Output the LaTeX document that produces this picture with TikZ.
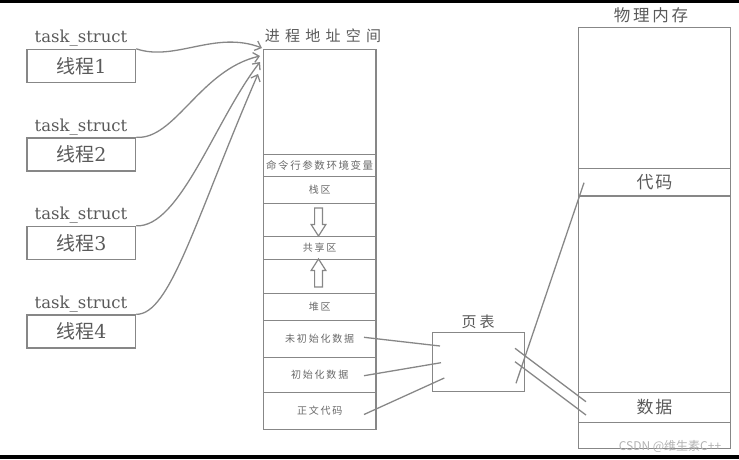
\documentclass[tikz,border=0pt]{standalone}
\usepackage{fontspec}
\newfontfamily\cjk{Noto Sans CJK SC}
\newfontfamily\lat{DejaVu Serif}
\usetikzlibrary{arrows.meta,shapes.arrows}
\definecolor{linegray}{RGB}{135,135,135}
\definecolor{txtgray}{RGB}{90,90,90}
\definecolor{smallgray}{RGB}{105,105,105}
\newcommand{\spaced}[3]{{\cjk\fontsize{#1}{#1}\selectfont\addfontfeature{LetterSpace=#2}#3}}

\begin{document}
\begin{tikzpicture}[x=1pt,y=-1pt,
    box/.style={draw=linegray,line width=1.4pt,inner sep=0pt,text=txtgray},
    thrd/.style={box,minimum width=108.5pt,minimum height=33pt,font=\lat\fontsize{19}{20}\selectfont},
    seg/.style={box,minimum width=112.7pt,text=smallgray},
    mseg/.style={box,minimum width=152.4pt},
    tag/.style={text=txtgray,inner sep=0pt,anchor=base,font=\lat\fontsize{16.5}{18}\selectfont},
    hollow/.style={single arrow,draw=linegray,line width=1.2pt,inner sep=3.3pt,
        single arrow head extend=3.5pt,single arrow tip angle=65,minimum height=28pt},
    conn/.style={draw=linegray,line width=1.3pt},
    arr/.style={conn,-{Straight Barb[length=5.5pt,width=10pt]}}]
    \useasboundingbox (0,0) rectangle (739,459);
    \fill[black] (0,0) rectangle (739,2.5);
    \fill[black] (0,455) rectangle (739,459);

    % threads
    \node[thrd] (t1) at (81.3,66) {{\cjk 线程}1};
    \node[thrd] (t2) at (81.3,154.5) {{\cjk 线程}2};
    \node[thrd] (t3) at (81.3,243) {{\cjk 线程}3};
    \node[thrd] (t4) at (81.3,331.5) {{\cjk 线程}4};
    \node[tag] (s1) at (81,42.7) {task\_struct};
    \node[tag] (s2) at (81,131.2) {task\_struct};
    \node[tag] (s3) at (81,219.7) {task\_struct};
    \node[tag] (s4) at (81,308.2) {task\_struct};

    % process address space
    \node[text=txtgray] (vtitle) at (323,36) {\spaced{15}{35}{进程地址空间}};
    \node[seg,minimum height=105pt] (top) at (319.7,101.8) {};
    \node[seg,minimum height=22.4pt] (env) at (319.7,165.5) {\spaced{10.5}{15}{命令行参数环境变量}};
    \node[seg,minimum height=26.6pt] (stack) at (319.7,190) {\spaced{10}{18}{栈区}};
    \node[seg,minimum height=33.4pt] (gap1) at (319.7,220) {};
    \node[seg,minimum height=22.6pt] (shared) at (319.7,248) {\spaced{10}{18}{共享区}};
    \node[seg,minimum height=34pt] (gap2) at (319.7,276.3) {};
    \node[seg,minimum height=27.4pt] (heap) at (319.7,307) {\spaced{10}{18}{堆区}};
    \node[seg,minimum height=36.6pt] (bss) at (319.7,339) {\spaced{10}{18}{未初始化数据}};
    \node[seg,minimum height=35.4pt] (data) at (319.7,375) {\spaced{10}{18}{初始化数据}};
    \node[seg,minimum height=36.6pt] (text) at (319.7,411) {\spaced{10}{18}{正文代码}};
    \node[hollow,rotate=-90] (down) at (318.5,219) {};
    \node[hollow,rotate=90] (up) at (318.5,276) {};

    % page table
    \node[text=txtgray] (pttitle) at (478,321.8) {\spaced{15}{20}{页表}};
    \node[box,minimum width=91.6pt,minimum height=59pt] (pt) at (478.5,362.2) {};

    % physical memory
    \node[text=txtgray] (mtitle) at (651,15) {\spaced{16.5}{17}{物理内存}};
    \node[mseg,minimum height=141pt] (mtop) at (654.5,97.8) {};
    \node[mseg,minimum height=27.7pt] (mcode) at (654.5,182.2) {\spaced{17}{10}{代码}};
    \node[mseg,minimum height=196.3pt] (mmid) at (654.5,294.2) {};
    \node[mseg,minimum height=30pt] (mdata) at (654.5,407.3) {\spaced{17}{10}{数据}};
    \node[mseg,minimum height=26pt] (mbot) at (654.5,435.3) {};
    \node[text=black!30,inner sep=0pt] (mark) at (670,446) {\cjk\fontsize{12}{12}\selectfont CSDN @维生素C++};

    % arrow tips and line ends
    \coordinate (h1) at (262,48);
    \coordinate (h2) at (260,56);
    \coordinate (h3) at (260,62);
    \coordinate (h4) at (258,74);
    \coordinate (a1) at (364,337.3);
    \coordinate (a2) at (364,375.7);
    \coordinate (a3) at (364,414.5);
    \coordinate (p1) at (440,346);
    \coordinate (p2) at (441,362.7);
    \coordinate (p3) at (444.3,378);
    \coordinate (q1) at (515,348.3);
    \coordinate (q2) at (515,361.7);
    \coordinate (q3) at (516,383.3);
    \coordinate (m1) at (586,401.7);
    \coordinate (m2) at (586,415);
    \coordinate (m3) at (584,182.7);

    \draw[arr] (t1.north east) .. controls (175,62) and (215,30) .. (h1);
    \draw[arr] (t2.north east) .. controls (175,140) and (200,70) .. (h2);
    \draw[arr] (t3.north east) .. controls (180,228) and (215,120) .. (h3);
    \draw[arr] (t4.north east) .. controls (170,315) and (195,220) .. (h4);

    \path[conn]
    (a1) edge (p1)
    (a2) edge (p2)
    (a3) edge (p3)
    (q1) edge (m1)
    (q2) edge (m2)
    (q3) edge (m3);
\end{tikzpicture}
\end{document}
